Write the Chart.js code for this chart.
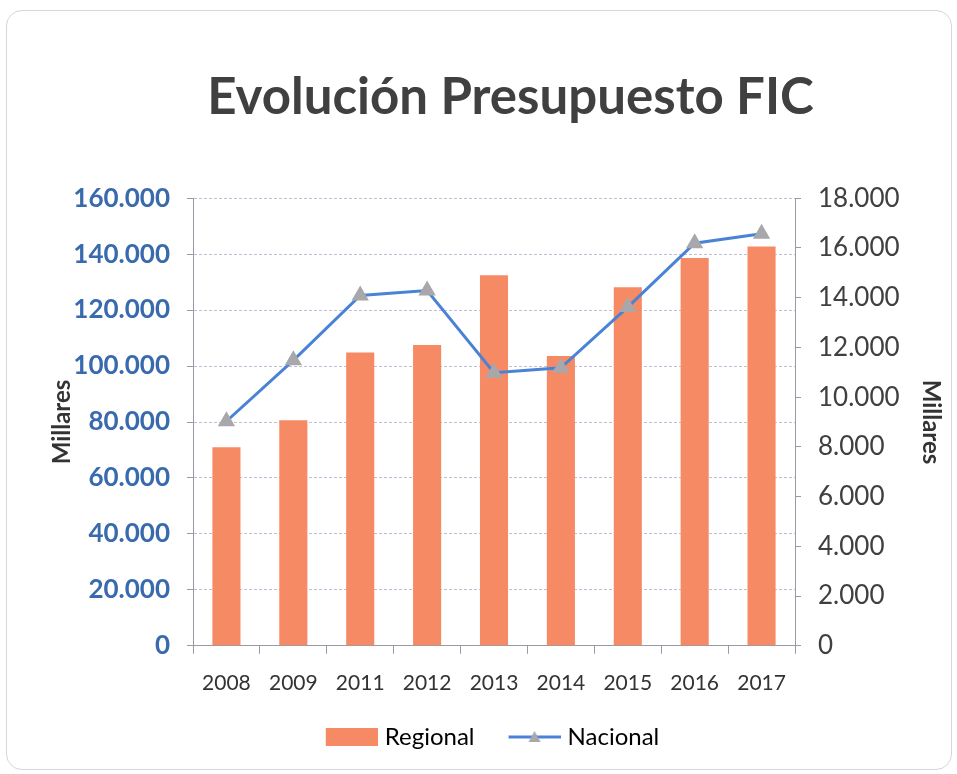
<!DOCTYPE html>
<html>
<head>
<meta charset="utf-8">
<script src="https://cdn.jsdelivr.net/npm/chart.js@4/dist/chart.umd.min.js"></script>
<style>
  html, body { margin: 0; padding: 0; background: #fff; }
  #frame { position: absolute; left: 6px; top: 10px; width: 944px; height: 758px;
           border: 1px solid #d6d6dc; border-radius: 16px; }
  #wrap { position: absolute; left: 0; top: 0; width: 957px; height: 774px; }
</style>
</head>
<body>
<div id="frame"></div>
<div id="wrap"><canvas id="chart" width="957" height="774"></canvas></div>
<script>
// categories and series
var years = ["2008", "2009", "2011", "2012", "2013", "2014", "2015", "2016", "2017"];
var regional = [71000, 80600, 104800, 107500, 132500, 103600, 128200, 138600, 142700];
var nacional = [9030, 11480, 14090, 14290, 10980, 11180, 13620, 16190, 16570];

var barColor = "#F58A64";
var lineColor = "#4A83D6";
var markColor = "#A8A8AC";
var fontFam = "Lato, 'Open Sans', sans-serif";

function fmt(v) {
	return String(v).replace(/\B(?=(\d{3})+(?!\d))/g, ".");
}

// legend symbols: drawn at the right end of a slightly wider image,
// so the symbol sits close to its text and the left part acts as item gap
var gap = 17;
var symW = 52 + gap + 10;
function barSymbol() {
	var c = document.createElement("canvas");
	c.width = symW; c.height = 18;
	var g = c.getContext("2d");
	g.fillStyle = barColor;
	g.fillRect(symW - 52, 0, 52, 18);
	return c;
}
function lineSymbol() {
	var c = document.createElement("canvas");
	c.width = symW; c.height = 18;
	var g = c.getContext("2d");
	var x0 = symW - 52;
	g.strokeStyle = lineColor;
	g.lineWidth = 3;
	g.beginPath(); g.moveTo(x0, 9); g.lineTo(x0 + 52, 9); g.stroke();
	g.fillStyle = markColor;
	g.beginPath(); g.moveTo(x0 + 26, 3); g.lineTo(x0 + 32, 14); g.lineTo(x0 + 20, 14); g.closePath(); g.fill();
	return c;
}

// small nudge of title / legend blocks to match the original centring
var nudge = {
	id: "nudge",
	afterLayout: function(chart) {
		chart.titleBlock.left += 10; chart.titleBlock.right += 10;
		chart.legend.left -= 19; chart.legend.right -= 19;
	}
};

var ctx = document.getElementById("chart");
var oChart = new Chart(ctx, {
	type: "bar",
	data: {
		labels: years,
		datasets: [{
			type: "line",
			label: "Nacional",
			data: nacional,
			yAxisID: "y2",
			borderColor: lineColor,
			borderWidth: 3,
			pointStyle: "triangle",
			pointRadius: 7,
			pointBackgroundColor: markColor,
			pointBorderColor: markColor,
			tension: 0,
			order: 0
		}, {
			label: "Regional",
			data: regional,
			yAxisID: "y",
			backgroundColor: barColor,
			categoryPercentage: 1,
			barPercentage: 0.42,
			order: 1
		}]
	},
	plugins: [nudge],
	options: {
		responsive: false,
		animation: false,
		layout: { padding: { left: 48, right: 4, top: 67, bottom: 15 } },
		plugins: {
			title: {
				display: true,
				text: "Evolución Presupuesto FIC",
				color: "#404040",
				font: { family: fontFam, size: 51, weight: "bold" },
				padding: { top: 0, bottom: 70 }
			},
			legend: {
				position: "bottom",
				reverse: true,
				labels: {
					usePointStyle: true,
					pointStyleWidth: 52 + gap,
					boxHeight: 18,
					color: "#333",
					font: { family: fontFam, size: 24 },
					padding: 12,
					generateLabels: function(chart) {
						return [{
							text: "Nacional", pointStyle: lineSymbol(), datasetIndex: 0,
							fillStyle: lineColor, strokeStyle: lineColor, lineWidth: 0, hidden: false
						}, {
							text: "Regional", pointStyle: barSymbol(), datasetIndex: 1,
							fillStyle: barColor, strokeStyle: barColor, lineWidth: 0, hidden: false
						}];
					}
				}
			},
			tooltip: { enabled: false }
		},
		scales: {
			x: {
				grid: { display: true, drawOnChartArea: false, drawTicks: true, tickLength: 8, color: "#9a9aa6" },
				border: { display: true, color: "#9a9aa6" },
				ticks: { color: "#333", font: { family: fontFam, size: 21 }, padding: 17 }
			},
			y: {
				position: "left",
				min: 0, max: 160000,
				ticks: { stepSize: 20000, color: "#3A6AAE", font: { family: fontFam, size: 26, weight: "bold" },
					padding: 17, callback: function(v) { return fmt(v); } },
				grid: { color: "#c0bed4", tickLength: 6, tickColor: "#9a9aa6" },
				border: { display: true, color: "#9a9aa6", dash: [3, 2] },
				title: { display: true, text: "Millares", color: "#333",
					font: { family: fontFam, size: 24, weight: "bold" }, padding: { top: 0, bottom: 8 } },
				afterFit: function(axis) { axis.width = 145; }
			},
			y2: {
				position: "right",
				min: 0, max: 18000,
				ticks: { stepSize: 2000, color: "#404040", font: { family: fontFam, size: 26 },
					padding: 17, callback: function(v) { return fmt(v); } },
				grid: { drawOnChartArea: false, tickLength: 6, tickColor: "#9a9aa6" },
				border: { display: true, color: "#9a9aa6" },
				title: { display: true, text: "Millares", color: "#333",
					font: { family: fontFam, size: 24, weight: "bold" }, padding: { top: 8, bottom: 0 } },
				afterFit: function(axis) { axis.width = 158; }
			}
		}
	}
});
</script>
</body>
</html>
